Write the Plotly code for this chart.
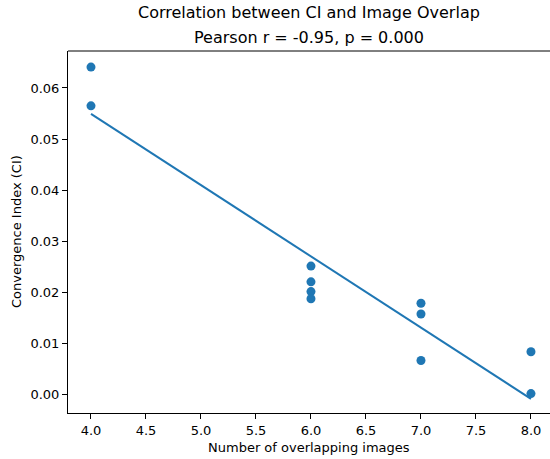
import numpy as np
import plotly.graph_objects as go

# Data
overlap_images = [4, 4, 6, 6, 6, 6, 7, 7, 7, 8, 8]
convergence_index = [0.0641, 0.0565, 0.0251, 0.0220, 0.0201, 0.0187,
                     0.0178, 0.0157, 0.0066, 0.0083, 0.0001]
x_ticks = [4.0, 4.5, 5.0, 5.5, 6.0, 6.5, 7.0, 7.5, 8.0]
y_ticks = [0.00, 0.01, 0.02, 0.03, 0.04, 0.05, 0.06]
title_line1 = "Correlation between CI and Image Overlap"
title_line2 = "Pearson r = -0.95, p = 0.000"
x_label = "Number of overlapping images"
y_label = "Convergence Index (CI)"

x = np.array(overlap_images, dtype=float)
y = np.array(convergence_index)
slope, intercept = np.polyfit(x, y, 1)
fit = slope * x + intercept

BLUE = "#1f77b4"
FONT = "DejaVu Sans"

fig = go.Figure()
fig.add_trace(go.Scatter(x=x, y=y, mode="markers",
                         marker=dict(color=BLUE, size=9, line=dict(width=0)),
                         showlegend=False))
fig.add_trace(go.Scatter(x=x, y=fit, mode="lines",
                         line=dict(color=BLUE, width=2),
                         showlegend=False))

axis_common = dict(showgrid=False, zeroline=False, showline=True,
                   linecolor="black", linewidth=1, ticks="outside",
                   ticklen=5, tickwidth=1, tickcolor="black",
                   automargin=False,
                   tickfont=dict(family=FONT, size=13, color="black"))

def txt(size):
    return dict(family=FONT, size=size, color="black")

fig.update_layout(
    width=550, height=459,
    margin=dict(l=68, r=0, t=51, b=46),
    plot_bgcolor="white", paper_bgcolor="white",
    font=dict(family=FONT, color="black"),
    xaxis=dict(range=[3.791, 8.173], tickvals=x_ticks,
               ticktext=[f"{v:.1f}" for v in x_ticks], **axis_common),
    yaxis=dict(range=[-0.0037, 0.06725], tickvals=y_ticks,
               ticktext=[f"{v:.2f}" for v in y_ticks], **axis_common),
    shapes=[dict(type="line", xref="paper", yref="paper", x0=0, x1=1,
                 y0=1, y1=1, line=dict(color="black", width=1))],
    annotations=[
        dict(text=title_line1, xref="paper", yref="paper", x=0.5, y=1,
             xanchor="center", yanchor="middle", yshift=39,
             showarrow=False, font=txt(16)),
        dict(text=title_line2, xref="paper", yref="paper", x=0.5, y=1,
             xanchor="center", yanchor="middle", yshift=14,
             showarrow=False, font=txt(16)),
        dict(text=x_label, xref="paper", yref="paper", x=0.5, y=0,
             xanchor="center", yanchor="middle", yshift=-34,
             showarrow=False, font=txt(13)),
        dict(text=y_label, xref="paper", yref="paper", x=0, y=0.5,
             xanchor="center", yanchor="middle", xshift=-52, textangle=-90,
             showarrow=False, font=txt(13)),
    ],
)

fig.write_html("out.html",
               config={"displayModeBar": False},
               post_script="document.body.style.margin='0';"
                           "document.body.style.padding='0';"
                           "document.body.style.overflow='hidden';")
